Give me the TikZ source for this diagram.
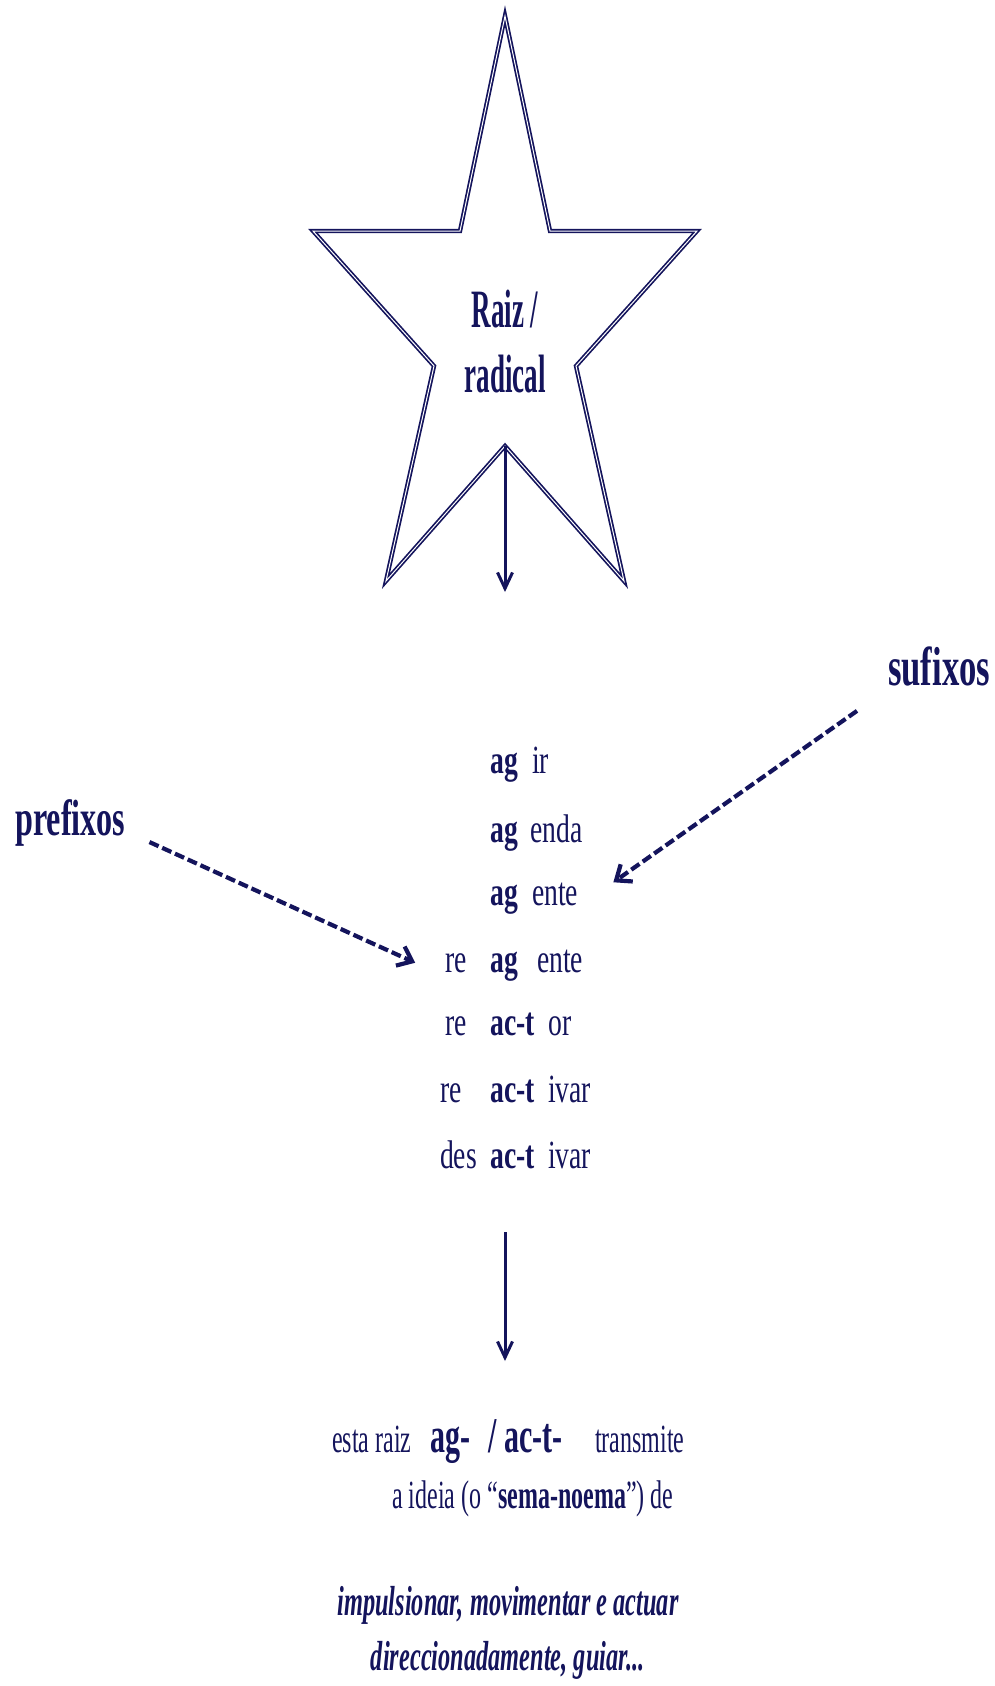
\documentclass[tikz,border=0pt]{standalone}
\usepackage{fontspec}
\setmainfont{Liberation Serif}
\newfontfamily\starfont{Liberation Serif}[FakeStretch=0.5]
\newfontfamily\rowfont{Liberation Serif}[FakeStretch=0.69]
\newfontfamily\tagfont{Liberation Serif}[FakeStretch=0.63]
\newfontfamily\notefont{Liberation Serif}[FakeStretch=0.6]
\newfontfamily\meaningfont{Liberation Serif}[FakeStretch=0.58]
\usetikzlibrary{arrows.meta}

\begin{document}
\begin{tikzpicture}[x=1pt, y=-1pt, >={Straight Barb[length=16pt,width=15pt]}]

\definecolor{cInk}{RGB}{20,20,92}

\tikzset{
  startext/.style   = {font=\starfont\bfseries\fontsize{54}{60}\selectfont, anchor=base, text=cInk, inner sep=0pt},
  rootword/.style   = {font=\rowfont\bfseries\fontsize{40}{44}\selectfont, anchor=base west, text=cInk, inner sep=0pt},
  affixword/.style  = {font=\rowfont\fontsize{40}{44}\selectfont, anchor=base west, text=cInk, inner sep=0pt},
  prefixword/.style = {affixword, anchor=base east},
  tagword/.style    = {anchor=base west, text=cInk, inner sep=0pt},
  note/.style       = {font=\notefont\fontsize{40}{44}\selectfont, anchor=base west, text=cInk, inner sep=0pt},
  bignote/.style    = {font=\notefont\bfseries\fontsize{50}{54}\selectfont, anchor=base west, text=cInk, inner sep=0pt},
  meaning/.style    = {font=\meaningfont\bfseries\itshape\fontsize{42}{46}\selectfont, anchor=base, text=cInk, inner sep=0pt},
  plainarrow/.style = {->, draw=cInk, line width=3pt},
  affixarrow/.style = {->, draw=cInk, line width=4.2pt, dash pattern=on 10pt off 4pt,
                       >={Straight Barb[length=13pt,width=21pt]}},
}

\useasboundingbox (0,0) rectangle (994,1686);

%% ---------- the star, top ----------
\draw[cInk, line width=1.7pt, double=white, double distance=1pt]
  (505,16) -- (550,231) -- (697,231) -- (576,366) -- (624,581)
  -- (505,446) coordinate (starin)
  -- (386,581) -- (434,366) -- (313,231) -- (460,231) -- cycle;

\node[startext] (raiz)    at (505,327) {Raiz /};
\node[startext] (radical) at (505,392) {radical};

\coordinate (starout) at (505,592);
\draw[plainarrow] (starin) -- (starout);

%% ---------- the words ----------
\node[rootword]   (ag1)   at (490,773) {ag};
\node[affixword]  (ir1)   at (532,773) {ir};

\node[rootword]   (ag2)   at (490,842) {ag};
\node[affixword]  (enda2) at (530,842) {enda};

\node[rootword]   (ag3)   at (490,905) {ag};
\node[affixword]  (ente3) at (532,905) {ente};

\node[prefixword] (re4)   at (467,972) {re};
\node[rootword]   (ag4)   at (490,972) {ag};
\node[affixword]  (ente4) at (537,972) {ente};

\node[prefixword] (re5)   at (467,1035) {re};
\node[rootword]   (ac5)   at (490,1035) {ac-t};
\node[affixword]  (or5)   at (548,1035) {or};

\node[prefixword] (re6)   at (462,1102) {re};
\node[rootword]   (ac6)   at (490,1102) {ac-t};
\node[affixword]  (ivar6) at (548,1102) {ivar};

\node[prefixword] (des7)  at (477,1168) {des};
\node[rootword]   (ac7)   at (490,1168) {ac-t};
\node[affixword]  (ivar7) at (548,1168) {ivar};

%% ---------- prefixes and suffixes ----------
\node[tagword, font=\tagfont\bfseries\fontsize{51}{56}\selectfont] (prefixos) at (15,835) {prefixos};
\node[tagword, font=\tagfont\bfseries\fontsize{55}{60}\selectfont] (sufixos)  at (888,685) {sufixos};

\draw[affixarrow] ([xshift=24pt,yshift=4pt]prefixos.south east) -- ([xshift=-30pt]re4.west);
\draw[affixarrow] ([xshift=-31pt,yshift=-25pt]sufixos.south west) -- ([xshift=35pt]ente3.north east);

%% ---------- what the root means ----------
\coordinate (downfrom) at (505,1232);
\coordinate (downto)   at (505,1361);
\draw[plainarrow] (downfrom) -- (downto);

\node[note]    (esta)    at (332,1452) {esta raiz};
\node[bignote] (agroot)  at (430,1452) {ag-};
\node[bignote] (actroot) at (488,1452) {/ ac-t-};
\node[note]    (transm)  at (595,1452) {transmite};

\node[note] (ideia) at (392,1508) {a ideia (o “\textbf{sema-noema}”) de};

\node[meaning] (verbs) at (508,1615) {impulsionar, movimentar e actuar};
\node[meaning] (guiar) at (508,1670) {direccionadamente, guiar...};

\end{tikzpicture}
\end{document}
